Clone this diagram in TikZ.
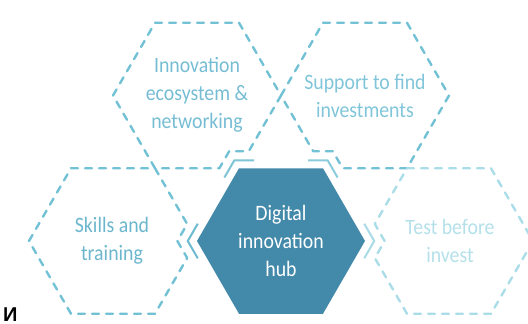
\documentclass[tikz,border=0pt]{standalone}
\usepackage{fontspec}
\setmainfont{Carlito}
\newfontfamily\hexfont[FakeStretch=0.9]{Carlito}
\newfontfamily\cyrfont{Liberation Sans Bold}
\definecolor{hubfill}{HTML}{4389AA}
\definecolor{dashA}{HTML}{72C1D4}
\definecolor{dashB}{HTML}{ABDDE8}
\definecolor{txtUL}{HTML}{76BDD4}
\definecolor{txtUR}{HTML}{80C5D9}
\definecolor{txtL}{HTML}{6CB6CE}
\definecolor{txtR}{HTML}{B4E0EA}
\definecolor{chL}{HTML}{6DBBD0}
\definecolor{chTL}{HTML}{7CC4D6}
\definecolor{chTR}{HTML}{8ACCDC}
\definecolor{chR}{HTML}{A8DBE7}
\tikzset{
  dashhex/.style={line width=2.4pt, line cap=round, line join=round, dash pattern=on 7pt off 7pt},
  chevron/.style={line width=2pt, line join=miter},
  hextext/.style={align=center, inner sep=0pt, font=\hexfont\fontsize{22}{28}\selectfont}
}
\begin{document}
\begin{tikzpicture}[x=1pt,y=-1pt]
\useasboundingbox (0,0) rectangle (528,324);
% hub
\fill[hubfill] (197,241) -- (239,168.25) -- (323,168.25) -- (365,241) -- (323,313.75) -- (239,313.75) -- cycle;
% upper left hex (notched)
\draw[dashhex, dashA] (113,95.5) -- (155,22.75) -- (239,22.75) -- (281,95.5) -- (248.81,151.25) -- (229.19,151.25) -- (219.37,168.25) -- (155,168.25) -- cycle;
% upper right hex (notched)
\draw[dashhex, dashA] (281,95.5) -- (323,22.75) -- (407,22.75) -- (449,95.5) -- (407,168.25) -- (342.63,168.25) -- (332.81,151.25) -- (313.19,151.25) -- cycle;
% left hex (notched)
\draw[dashhex, dashA] (29,241) -- (71,168.25) -- (155,168.25) -- (187.19,224) -- (177.37,241) -- (187.19,258) -- (155,313.75) -- (71,313.75) -- cycle;
% right hex (notched)
\draw[dashhex, dashB] (407,168.25) -- (491,168.25) -- (533,241) -- (491,313.75) -- (407,313.75) -- (374.81,258) -- (384.63,241) -- (374.81,224) -- cycle;
% chevrons
\draw[chevron, chTL] (254,160.25) -- (234.38,160.25) -- (224.38,177.57);
\draw[chevron, chTR] (308,160.25) -- (327.62,160.25) -- (337.62,177.57);
\draw[chevron, chL] (197.76,223.7) -- (187.76,241) -- (197.76,258.3);
\draw[chevron, chR] (364.24,223.7) -- (374.24,241) -- (364.24,258.3);
% texts
\node[hextext, text=txtUL] (ul) at (197,95) {Innovation\\ecosystem \&\\networking};
\node[hextext, text=txtUR] (ur) at (365,96) {Support to find\\investments};
\node[hextext, text=txtL] (sk) at (112,241) {Skills and\\training};
\node[hextext, text=white] (hub) at (281,241) {Digital\\innovation\\hub};
\node[hextext, text=txtR] (tb) at (450,241) {Test before\\invest};
\node[anchor=base west, inner sep=0pt, font=\cyrfont\fontsize{20}{22}\selectfont] (cyr) at (3,321) {И};
\end{tikzpicture}
\end{document}
